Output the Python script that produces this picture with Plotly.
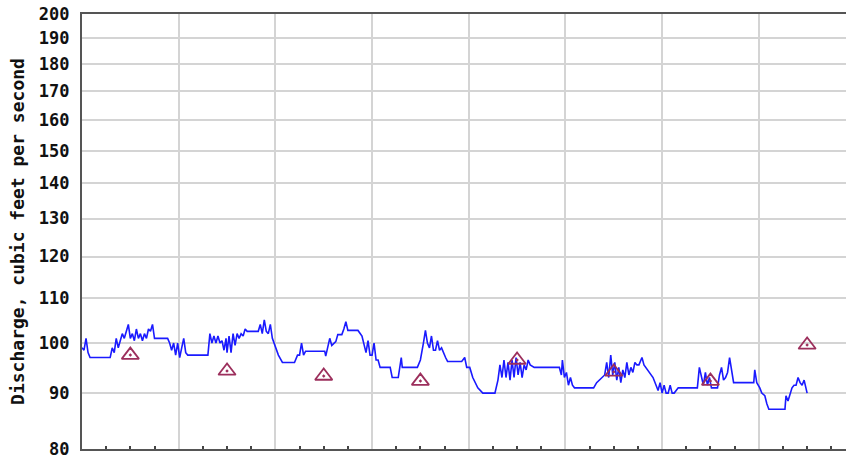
import plotly.graph_objects as go

# Hours since start of period (x) and discharge (cfs) for the continuous record
hours = [0, 2, 4, 6, 8, 28, 30, 32, 34, 36, 38, 40, 42, 44, 46, 48, 50, 52, 54, 56,
         58, 60, 62, 64, 66, 68, 70, 72, 85, 87, 89, 91, 93, 95, 97, 99, 101, 103, 105, 125,
         127, 129, 131, 133, 135, 137, 139, 141, 143, 144, 146, 148, 150, 152, 154, 156, 158, 160, 162, 164,
         175, 177, 179, 181, 183, 185, 187, 189, 192, 195, 199, 211, 214, 216, 218, 220, 222, 241, 242, 246,
         248, 252, 254, 258, 260, 262, 264, 274, 278, 280, 282, 284, 286, 288, 290, 292, 294, 296, 306, 308,
         314, 317, 318, 333, 336, 339, 341, 343, 345, 347, 349, 351, 353, 355, 357, 361, 363, 377, 380, 382,
         385, 388, 393, 398, 410, 413, 415, 417, 419, 421, 423, 425, 427, 429, 431, 433, 435, 437, 439, 441,
         443, 445, 449, 474, 476, 477, 479, 481, 483, 485, 487, 489, 508, 511, 516, 519, 521, 523, 525, 527,
         529, 531, 533, 535, 537, 539, 541, 543, 545, 547, 549, 551, 553, 556, 558, 563, 567, 570, 572, 574,
         576, 578, 580, 582, 584, 586, 588, 592, 611, 613, 615, 617, 619, 621, 623, 625, 631, 633, 635, 637,
         639, 641, 643, 645, 647, 667, 668, 670, 673, 675, 678, 680, 682, 698, 699, 701, 705, 707, 709, 711,
         713, 715, 717, 720]
discharge = [99, 98.5, 101, 98, 97, 97, 99, 98, 101, 99, 100.5, 102, 101, 102.5, 104, 101, 102, 100.5, 103, 101,
             102, 100.5, 102, 101, 103, 102.5, 104, 101, 101, 100, 98.5, 100, 97.5, 100, 97, 99, 101, 98, 97.5, 97.5,
             102, 100, 101.5, 100, 101.5, 100, 100.5, 98.5, 101, 98, 101.5, 98, 102, 99.5, 102, 101, 102, 101.5, 103, 102.5,
             102.5, 104, 102, 105, 102.5, 102, 104, 101, 99, 97.5, 96, 96, 97.5, 97.5, 100, 97.5, 98.3, 98.3, 97.3, 101,
             99.5, 100.3, 101.8, 101.8, 103, 104.6, 102.7, 102.7, 101.5, 99.5, 98, 100.5, 97.5, 97.5, 100, 96.5, 96.5, 95, 95, 93,
             93, 97, 95, 95, 96.5, 100, 102.7, 100, 99, 101.5, 98.5, 98.5, 100.5, 98.5, 99, 97, 96.2, 96.2, 97, 95,
             95, 93, 91, 90, 90, 92.5, 95.5, 93, 96.5, 93, 96, 92.5, 96.5, 93, 97, 93.5, 96, 93, 95.5, 94.5,
             96.5, 95.5, 95, 95, 93.5, 96.5, 93, 94, 91.5, 93, 91.5, 91, 91, 92, 93, 93.5, 96, 93, 97.5, 93.5,
             96, 92.5, 95, 92, 94.5, 93, 96, 93.5, 95, 94, 96, 95.5, 95.5, 97, 95.5, 94, 93, 91.5, 90.5, 92,
             90, 91.5, 90, 90, 91.5, 90, 90, 91, 91, 95, 93, 91.5, 94, 91.5, 93, 91, 91, 93.5, 95, 92.5,
             93, 94, 97, 94, 92, 92, 94.5, 92, 91, 90, 89.5, 88, 87, 87, 89.5, 88.5, 91, 91.5, 91.5, 93,
             92, 91.5, 92.5, 90]

# Field measurements (triangles)
meas_hours = [48, 144, 240, 336, 432, 528, 624, 720]
meas_values = [97.5, 94.3, 93.3, 92.3, 96.5, 94.1, 92.3, 99.6]

y_ticks = [80, 90, 100, 110, 120, 130, 140, 150, 160, 170, 180, 190, 200]

fig = go.Figure()
fig.add_trace(go.Scatter(x=hours, y=discharge, mode="lines",
                         line=dict(color="#1a1aff", width=1.6), showlegend=False))
fig.add_trace(go.Scatter(x=meas_hours, y=meas_values, mode="markers",
                         marker=dict(symbol="triangle-up-open-dot", size=15, color="#9c2f5c",
                                     line=dict(width=1.8, color="#9c2f5c")),
                         showlegend=False))

font_main = dict(family="DejaVu Sans Mono", size=17, color="#111111", weight="bold")

fig.update_layout(
    width=846, height=458,
    margin=dict(l=82, r=0, t=14, b=9, autoexpand=False),
    paper_bgcolor="white", plot_bgcolor="white",
    font=font_main,
)
fig.update_xaxes(
    range=[0, 758.6], dtick=96, tick0=0, automargin=False,
    showgrid=True, gridcolor="#d4d4d4", gridwidth=1.6,
    showline=True, linecolor="#555555", linewidth=2.2, mirror=True,
    ticks="", showticklabels=False, zeroline=False,
    minor=dict(dtick=24, tick0=0, ticks="inside", ticklen=3, tickwidth=1.5,
               tickcolor="#444444", showgrid=False),
)
fig.update_yaxes(
    type="log", range=[1.90309, 2.30103], automargin=False,
    tickvals=y_ticks, ticktext=[str(v) for v in y_ticks],
    ticklabeloverflow="allow",
    showgrid=True, gridcolor="#d4d4d4", gridwidth=1.6,
    showline=True, linecolor="#555555", linewidth=2.2, mirror=False,
    ticks="", ticklabelstandoff=7, zeroline=False,
    tickfont=dict(family="DejaVu Sans Mono", size=17, color="#111111", weight="bold"),
    title=dict(text="Discharge, cubic feet per second", standoff=9,
               font=dict(family="DejaVu Sans Mono", size=18, color="#111111", weight="bold")),
)

fig.write_html("out.html", config={"displayModeBar": False},
               post_script="document.body.style.margin='0px';document.body.style.overflow='hidden';")
